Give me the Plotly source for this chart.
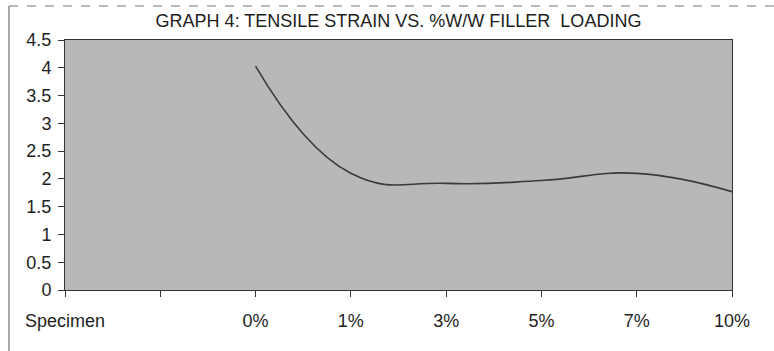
import plotly.graph_objects as go

categories = ["Specimen", " ", "0%", "1%", "3%", "5%", "7%", "10%"]
loading = ["0%", "1%", "3%", "5%", "7%", "10%"]
strain = [4.03, 2.10, 1.92, 1.97, 2.10, 1.77]
y_ticks = [0, 0.5, 1, 1.5, 2, 2.5, 3, 3.5, 4, 4.5]
y_ticktext = ["0", "0.5", "1", "1.5", "2", "2.5", "3", "3.5", "4", "4.5"]

font_family = "Liberation Sans, Arial, sans-serif"

fig = go.Figure()
fig.add_trace(go.Scatter(
    x=loading, y=strain, mode="lines",
    line=dict(color="#3a3a3a", width=1.6, shape="spline", smoothing=1.3),
    showlegend=False,
))

fig.update_layout(
    width=774, height=351,
    margin=dict(l=65, r=42, t=40, b=61),
    paper_bgcolor="white",
    plot_bgcolor="#b8b8b8",
    font=dict(family=font_family, color="#1e1e1e", size=18),
    title=dict(text="GRAPH 4: TENSILE STRAIN VS. %W/W FILLER  LOADING",
               x=0.5, xref="paper", xanchor="center", y=0.94, yanchor="middle",
               font=dict(size=18, color="#1e1e1e")),
    shapes=[
        dict(type="line", xref="paper", yref="paper", x0=-0.084, x1=-0.084,
             y0=-1, y1=1.136, line=dict(color="#555555", width=1)),
        dict(type="line", xref="paper", yref="paper", x0=-0.084, x1=1.2,
             y0=1.136, y1=1.136, line=dict(color="#777777", width=1, dash="dash")),
    ],
)

fig.update_xaxes(
    type="category", categoryorder="array", categoryarray=categories,
    tickmode="array", tickvals=categories, ticktext=categories,
    range=[0, 7], showgrid=False, zeroline=False,
    showline=True, linecolor="#333333", linewidth=1, mirror=True,
    ticks="outside", ticklen=6, tickcolor="#333333",
    ticklabelstandoff=8, tickfont=dict(size=18),
)
fig.update_yaxes(
    range=[0, 4.5], tickmode="array", tickvals=y_ticks, ticktext=y_ticktext,
    showgrid=False, zeroline=False,
    showline=True, linecolor="#333333", linewidth=1, mirror=True,
    ticks="outside", ticklen=6, tickcolor="#333333",
    ticklabelstandoff=3, tickfont=dict(size=18),
)

fig.write_html("out.html")
